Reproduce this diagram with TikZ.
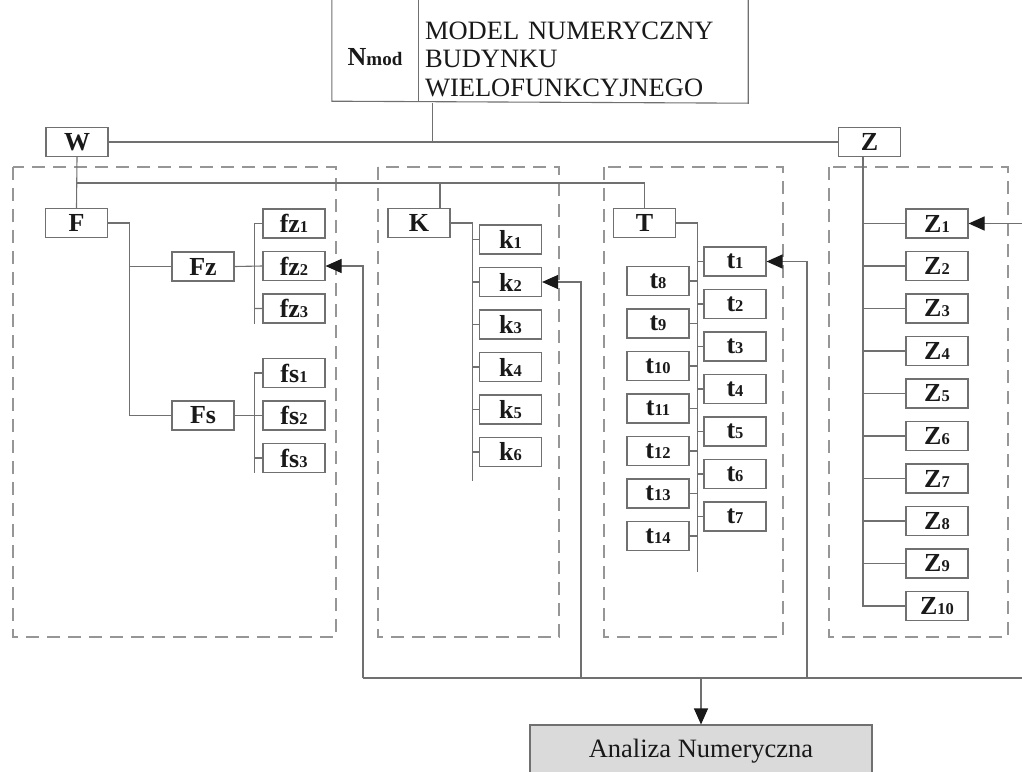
\documentclass[tikz,border=0pt]{standalone}
\usepackage{fontspec}
\setmainfont{Liberation Serif}
\usetikzlibrary{arrows.meta,positioning}
\definecolor{dggray}{RGB}{112,112,112}
\definecolor{dgdash}{RGB}{150,150,150}
\definecolor{dgfill}{RGB}{218,218,218}
\definecolor{dgtext}{RGB}{25,25,25}
\newcommand{\subidx}[1]{{\fontsize{16.5}{16.5}\selectfont #1}}

\begin{document}
\begin{tikzpicture}[x=1pt, y=-1pt, node distance=42.5pt,
    blk/.style={draw=dggray, line width=1.1pt, fill=white, minimum width=62pt, minimum height=29pt, inner sep=0pt, text=dgtext, font=\fontsize{26}{27}\selectfont\bfseries},
    topcell/.style={minimum height=88pt, inner sep=0pt, text=dgtext},
    ln/.style={draw=dggray, line width=1.1pt},
    fb/.style={ln, -{Triangle[length=16pt, width=14pt, color=dgtext]}},
    panel/.style={draw=dgdash, line width=1.2pt, dash pattern=on 13pt off 8pt}]
        \useasboundingbox (0,0) rectangle (1022,771);
        \fill[white] (0,0) rectangle (1022,771);
        % dashed groups
        \draw[panel] (13,167) rectangle (336,637);
        \draw[panel] (378,167) rectangle (559,637);
        \draw[panel] (604,167) rectangle (783,637);
        \draw[panel] (829,167) rectangle (1008,637);
        % title box
        \node[topcell, minimum width=86pt, font=\fontsize{26}{27}\selectfont\bfseries] (nmod) at (375,57) {N{\fontsize{19}{19}\selectfont mod}};
        \node[topcell, minimum width=330pt, text width=316pt, align=left, font=\fontsize{26.5}{28.5}\selectfont] (txt) at (583,59) {MODEL NUMERYCZNY\\BUDYNKU\\WIELOFUNKCYJNEGO};
        \draw[ln] ([yshift=30pt]nmod.north west) -- (nmod.south west) -- (txt.south east) -- ([yshift=30pt]txt.north east);
        \draw[ln] ([yshift=30pt]nmod.north east) -- (nmod.south east);
        % main blocks
        \node[blk] (W) at (77,142) {W};
        \node[blk] (Z) at (869.5,142) {Z};
        \node[blk] (F) at (76.5,223) {F};
        \node[blk] (K) at (419,223) {K};
        \node[blk] (T) at (644.5,223) {T};
        \node[blk] (Fz) at (203,266.5) {Fz};
        \node[blk] (Fs) at (203,415.5) {Fs};
        % F group
        \node[blk] (fz1) at (294,223.5) {fz\subidx{1}};
        \node[blk, below of=fz1] (fz2) {fz\subidx{2}};
        \node[blk, below of=fz2] (fz3) {fz\subidx{3}};
        \node[blk] (fs1) at (294,373) {fs\subidx{1}};
        \node[blk, below of=fs1] (fs2) {fs\subidx{2}};
        \node[blk, below of=fs2] (fs3) {fs\subidx{3}};
        % K group
        \node[blk] (k1) at (510.5,239.5) {k\subidx{1}};
        \node[blk, below of=k1] (k2) {k\subidx{2}};
        \node[blk, below of=k2] (k3) {k\subidx{3}};
        \node[blk, below of=k3] (k4) {k\subidx{4}};
        \node[blk, below of=k4] (k5) {k\subidx{5}};
        \node[blk, below of=k5] (k6) {k\subidx{6}};
        % T group
        \node[blk] (t1) at (735,261.5) {t\subidx{1}};
        \node[blk, below of=t1] (t2) {t\subidx{2}};
        \node[blk, below of=t2] (t3) {t\subidx{3}};
        \node[blk, below of=t3] (t4) {t\subidx{4}};
        \node[blk, below of=t4] (t5) {t\subidx{5}};
        \node[blk, below of=t5] (t6) {t\subidx{6}};
        \node[blk, below of=t6] (t7) {t\subidx{7}};
        \node[blk] (t8) at (658,281) {t\subidx{8}};
        \node[blk, below of=t8] (t9) {t\subidx{9}};
        \node[blk, below of=t9] (t10) {t\subidx{10}};
        \node[blk, below of=t10] (t11) {t\subidx{11}};
        \node[blk, below of=t11] (t12) {t\subidx{12}};
        \node[blk, below of=t12] (t13) {t\subidx{13}};
        \node[blk, below of=t13] (t14) {t\subidx{14}};
        % Z group
        \node[blk] (Z1) at (937,223.5) {Z\subidx{1}};
        \node[blk, below of=Z1] (Z2) {Z\subidx{2}};
        \node[blk, below of=Z2] (Z3) {Z\subidx{3}};
        \node[blk, below of=Z3] (Z4) {Z\subidx{4}};
        \node[blk, below of=Z4] (Z5) {Z\subidx{5}};
        \node[blk, below of=Z5] (Z6) {Z\subidx{6}};
        \node[blk, below of=Z6] (Z7) {Z\subidx{7}};
        \node[blk, below of=Z7] (Z8) {Z\subidx{8}};
        \node[blk, below of=Z8] (Z9) {Z\subidx{9}};
        \node[blk, below of=Z9] (Z10) {Z\subidx{10}};
        % result
        \node[draw=dggray, line width=1.1pt, fill=dgfill, minimum width=342pt, minimum height=52pt, inner sep=0pt, text=dgtext, font=\fontsize{26.5}{28}\selectfont] (ana) at (701,751) {Analiza Numeryczna};
        % top connectors
        \draw[ln] ([xshift=15pt]txt.south west) -- ([xshift=15pt]txt.south west |- W.east);
        \draw[ln] (W.east) -- (Z.west);
        \draw[ln] (W.south) -- (F.north);
        \coordinate (bus) at (77,183);
        \draw[ln] (bus) -| (T.north);
        \draw[ln] ([xshift=21pt]K.north) -- ([xshift=21pt]K.north |- bus);
        % F tree
        \draw[ln] (F.east) -- ++(21,0) coordinate (fb) |- (Fs.west);
        \draw[ln] (Fz.west) -- (Fz.west -| fb);
        \draw[ln] (fz1.west) -- ++(-8,0) coordinate (fzb) -- (fzb |- fz3.south);
        \draw[ln] (Fz.east) -- (fz2.west) (fz3.west) -- (fz3.west -| fzb);
        \draw[ln] (fs1.west) -- ++(-8,0) coordinate (fsb) -- (fsb |- fs3.south);
        \draw[ln] (Fs.east) -- (fs2.west) (fs3.west) -- (fs3.west -| fsb);
        % K tree
        \draw[ln] (K.east) -- ++(22,0) coordinate (kb) -- ([yshift=-14pt]kb |- k6.south);
        \draw[ln] (k1.west) -- (k1.west -| kb) (k2.west) -- (k2.west -| kb) (k3.west) -- (k3.west -| kb)
            (k4.west) -- (k4.west -| kb) (k5.west) -- (k5.west -| kb) (k6.west) -- (k6.west -| kb);
        % T tree
        \draw[ln] (T.east) -- ++(21,0) coordinate (tb) -- ([yshift=-21pt]tb |- t14.south);
        \draw[ln] (t1.west) -- (t1.west -| tb) (t2.west) -- (t2.west -| tb) (t3.west) -- (t3.west -| tb)
            (t4.west) -- (t4.west -| tb) (t5.west) -- (t5.west -| tb) (t6.west) -- (t6.west -| tb)
            (t7.west) -- (t7.west -| tb);
        \draw[ln] (t8.east) -- (t8.east -| tb) (t9.east) -- (t9.east -| tb) (t10.east) -- (t10.east -| tb)
            (t11.east) -- (t11.east -| tb) (t12.east) -- (t12.east -| tb) (t13.east) -- (t13.east -| tb)
            (t14.east) -- (t14.east -| tb);
        % Z tree
        \coordinate (zb) at ([xshift=-6.5pt]Z.south);
        \draw[ln] (zb) |- (Z10.west);
        \draw[ln] (Z1.west) -- (Z1.west -| zb) (Z2.west) -- (Z2.west -| zb) (Z3.west) -- (Z3.west -| zb)
            (Z4.west) -- (Z4.west -| zb) (Z5.west) -- (Z5.west -| zb) (Z6.west) -- (Z6.west -| zb)
            (Z7.west) -- (Z7.west -| zb) (Z8.west) -- (Z8.west -| zb) (Z9.west) -- (Z9.west -| zb);
        % feedback loop
        \coordinate (lp1) at (363,678);
        \coordinate (lp2) at (581,678);
        \coordinate (lp3) at (807,678);
        \coordinate (lp4) at (1035,678);
        \draw[ln] (lp1) -- (lp4);
        \draw[fb] (lp1) |- (fz2.east);
        \draw[fb] (lp2) |- (k2.east);
        \draw[fb] (lp3) |- (t1.east);
        \draw[fb] (lp4) |- (Z1.east);
        \draw[fb] (ana.north |- lp1) -- (ana.north);
      \end{tikzpicture}
\end{document}
